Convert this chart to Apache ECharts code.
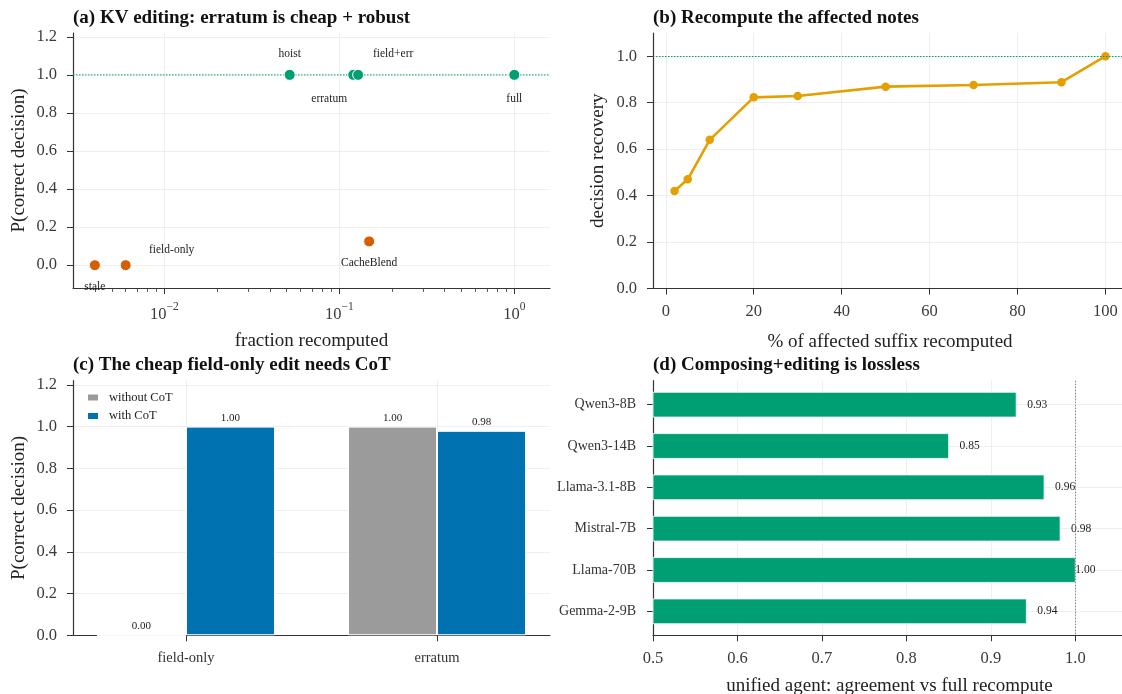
<!DOCTYPE html>
<html><head><meta charset="utf-8">
<script src="https://cdn.jsdelivr.net/npm/echarts@6/dist/echarts.min.js"></script>
<style>html,body{margin:0;padding:0;background:#fff}#c{width:1122px;height:694px}</style>
</head><body><div id="c"></div>
<script>
// ---------------- data ----------------
// (a) KV editing
const kvMethods  = ['stale', 'field-only', 'hoist', 'erratum', 'field+err', 'full', 'CacheBlend'];
const kvFraction = [0.004, 0.006, 0.052, 0.12, 0.128, 1.0, 0.148];
const kvCorrect  = [0.0, 0.0, 1.0, 1.0, 1.0, 1.0, 0.125];
const kvMajorExponents = [-2, -1, 0];
const probTicks = [0, 0.2, 0.4, 0.6, 0.8, 1.0, 1.2];
const perfectScore = 1.0;

// (b) recompute affected notes
const suffixPct = [2, 5, 10, 20, 30, 50, 70, 90, 100];
const recovery  = [0.42, 0.47, 0.64, 0.823, 0.829, 0.869, 0.876, 0.888, 1.0];
const pctTicks = [0, 20, 40, 60, 80, 100];
const recoveryTicks = [0, 0.2, 0.4, 0.6, 0.8, 1.0];

// (c) CoT
const cotEdits   = ['field-only', 'erratum'];
const withoutCoT = [0.0, 1.0];
const withCoT    = [1.0, 0.98];

// (d) composing + editing
const models    = ['Qwen3-8B', 'Qwen3-14B', 'Llama-3.1-8B', 'Mistral-7B', 'Llama-70B', 'Gemma-2-9B'];
const agreement = [0.93, 0.85, 0.963, 0.982, 1.0, 0.942];
const agreementTicks = [0.5, 0.6, 0.7, 0.8, 0.9, 1.0];

// ---------------- style ----------------
const FONT = '"Liberation Serif", "Times New Roman", serif';
const GREEN = '#009E73', ORANGE = '#D55E00', GOLD = '#E69F00', BLUE = '#0072B2', GRAY = '#9b9b9b';
const AXIS_COLOR = '#333', GRID_COLOR = '#ebebeb', TICK_TEXT = '#3a3a3a';
const TICK_FS = 16.5;
const labelOffsets = {
  'stale': [0, 22], 'field-only': [46, -15], 'hoist': [0, -21], 'erratum': [-24, 24],
  'field+err': [35, -21], 'full': [0, 24], 'CacheBlend': [0, 22]
};

function axisCommon(o) {
  return Object.assign({
    type: 'value',
    axisLine: { show: true, onZero: false, lineStyle: { color: AXIS_COLOR, width: 1.2 } },
    splitLine: { show: true, lineStyle: { color: GRID_COLOR, width: 0.8 } },
    nameLocation: 'middle',
    nameTextStyle: { fontSize: 19, color: '#222', fontFamily: FONT }
  }, o);
}
function ticks(values, extra) {
  return {
    axisLabel: Object.assign({ customValues: values, color: TICK_TEXT, fontSize: TICK_FS, fontFamily: FONT, margin: 15 }, extra || {}),
    axisTick: { show: true, customValues: values, length: 6, lineStyle: { color: AXIS_COLOR, width: 1 } }
  };
}

// minor log ticks for panel (a)
const kvMin = Math.log10(0.003), kvMax = Math.log10(1.6);
const minorTicks = [];
for (let e = -3; e <= 0; e++) {
  for (let k = 2; k <= 9; k++) {
    const v = Math.log10(k * Math.pow(10, e));
    if (v > kvMin && v < kvMax) minorTicks.push(v);
  }
}

const xAxes = [
  // 0: panel a major
  axisCommon(Object.assign({
    gridIndex: 0, position: 'bottom', min: kvMin, max: kvMax,
    name: 'fraction recomputed', nameGap: 44
  }, ticks(kvMajorExponents, {
    margin: 13,
    formatter: v => '{b|10}{s|' + (v < 0 ? '\u2212' + (-v) : v) + '}',
    rich: {
      b: { fontSize: TICK_FS, fontFamily: FONT, color: TICK_TEXT, lineHeight: 22, verticalAlign: 'bottom' },
      s: { fontSize: 11.5, fontFamily: FONT, color: TICK_TEXT, lineHeight: 12, verticalAlign: 'top' }
    }
  }))),
  // 1: panel a minor ticks
  {
    type: 'value', gridIndex: 0, position: 'bottom', min: kvMin, max: kvMax,
    axisLine: { show: false, onZero: false }, axisLabel: { show: false }, splitLine: { show: false },
    axisTick: { show: true, customValues: minorTicks, length: 4, lineStyle: { color: AXIS_COLOR, width: 0.8 } }
  },
  // 2: panel b
  axisCommon(Object.assign({
    gridIndex: 1, min: -2.9, max: 104.9,
    name: '% of affected suffix recomputed', nameGap: 44
  }, ticks(pctTicks))),
  // 3: panel c
  axisCommon(Object.assign({
    gridIndex: 2, min: -0.45, max: 1.45
  }, ticks([0, 1], { formatter: v => cotEdits[Math.round(v)], fontSize: 14.5, color: '#333' }))),
  // 4: panel d
  axisCommon(Object.assign({
    gridIndex: 3, min: 0.5, max: 1.06,
    name: 'unified agent: agreement vs full recompute', nameGap: 41
  }, ticks(agreementTicks, { formatter: v => v.toFixed(1) })))
];

const yAxes = [
  axisCommon(Object.assign({
    gridIndex: 0, min: -0.12, max: 1.22, name: 'P(correct decision)', nameGap: 44
  }, ticks(probTicks, { formatter: v => v.toFixed(1), margin: 16 }))),
  axisCommon(Object.assign({
    gridIndex: 1, min: 0, max: 1.1, name: 'decision recovery', nameGap: 45
  }, ticks(recoveryTicks, { formatter: v => v.toFixed(1), margin: 16 }))),
  axisCommon(Object.assign({
    gridIndex: 2, min: 0, max: 1.22, name: 'P(correct decision)', nameGap: 44
  }, ticks(probTicks, { formatter: v => v.toFixed(1), margin: 16 }))),
  axisCommon(Object.assign({
    gridIndex: 3, min: -0.58, max: 5.58, inverse: true
  }, ticks(models.map((_, i) => i), { formatter: v => models[Math.round(v)], fontSize: 14, color: '#333', margin: 17 })))
];

const kvData = kvMethods.map((m, i) => ({
  name: m,
  value: [Math.log10(kvFraction[i]), kvCorrect[i]],
  itemStyle: { color: kvCorrect[i] >= 0.5 ? GREEN : ORANGE },
  label: { offset: labelOffsets[m] }
}));

const titleStyle = { fontSize: 19, fontWeight: 'bold', color: '#111', fontFamily: FONT };
const dottedGreen = { color: GREEN, type: [1.5, 1.5], width: 1, opacity: 1 };

const option = {
  backgroundColor: '#fff',
  animation: false,
  textStyle: { fontFamily: FONT },
  title: [
    { text: '(a) KV editing: erratum is cheap + robust', left: 73, top: 9, textStyle: titleStyle, padding: 0 },
    { text: '(b) Recompute the affected notes', left: 653, top: 9, textStyle: titleStyle, padding: 0 },
    { text: '(c) The cheap field-only edit needs CoT', left: 73, top: 356, textStyle: titleStyle, padding: 0 },
    { text: '(d) Composing+editing is lossless', left: 653, top: 356, textStyle: titleStyle, padding: 0 }
  ],
  legend: {
    data: ['without CoT', 'with CoT'], orient: 'vertical', left: 86, top: 391, padding: 0,
    itemWidth: 12, itemHeight: 8, itemGap: 5.5, icon: 'rect',
    textStyle: { fontSize: 12.5, color: '#222', fontFamily: FONT, padding: [0, 0, 0, 5] }
  },
  grid: [
    { left: 73, top: 33, width: 477, height: 255, outerBoundsMode: 'none', containLabel: false },
    { left: 653, top: 33, width: 474, height: 255.5, outerBoundsMode: 'none', containLabel: false },
    { left: 73, top: 380.7, width: 477, height: 254.6, outerBoundsMode: 'none', containLabel: false },
    { left: 653, top: 380.7, width: 473, height: 254.6, outerBoundsMode: 'none', containLabel: false }
  ],
  xAxis: xAxes,
  yAxis: yAxes,
  series: [
    {
      // reference line P = 1 across panel (a)
      type: 'line', xAxisIndex: 0, yAxisIndex: 0, silent: true,
      data: [[kvMin, perfectScore], [kvMax, perfectScore]],
      showSymbol: false, symbol: 'none', color: GREEN,
      lineStyle: dottedGreen, z: 1
    },
    {
      type: 'scatter', xAxisIndex: 0, yAxisIndex: 0, data: kvData,
      symbolSize: 11, itemStyle: { borderColor: '#fff', borderWidth: 1, opacity: 1 },
      label: { show: true, position: 'inside', formatter: p => p.name, fontSize: 11.5, color: '#222', fontFamily: FONT },
      z: 5
    },
    {
      type: 'line', xAxisIndex: 2, yAxisIndex: 1,
      data: suffixPct.map((x, i) => [x, recovery[i]]),
      color: GOLD, lineStyle: { width: 2.6, color: GOLD }, symbol: 'circle', symbolSize: 8.5,
      itemStyle: { color: GOLD },
      markLine: {
        silent: true, symbol: 'none', label: { show: false },
        lineStyle: dottedGreen,
        data: [{ yAxis: perfectScore, lineStyle: dottedGreen }]
      }
    },
    {
      name: 'without CoT', type: 'bar', xAxisIndex: 3, yAxisIndex: 2,
      data: cotEdits.map((_, i) => [i, withoutCoT[i]]),
      barWidth: 89, barGap: '0%', color: GRAY,
      itemStyle: { color: GRAY, borderColor: '#fff', borderWidth: 1 },
      label: { show: true, position: 'top', distance: 3, formatter: p => p.value[1].toFixed(2), fontSize: 11, color: '#222', fontFamily: FONT }
    },
    {
      name: 'with CoT', type: 'bar', xAxisIndex: 3, yAxisIndex: 2,
      data: cotEdits.map((_, i) => [i, withCoT[i]]),
      barWidth: 89, barGap: '0%', color: BLUE,
      itemStyle: { color: BLUE, borderColor: '#fff', borderWidth: 1 },
      label: { show: true, position: 'top', distance: 3, formatter: p => p.value[1].toFixed(2), fontSize: 11, color: '#222', fontFamily: FONT }
    },
    {
      type: 'custom', xAxisIndex: 4, yAxisIndex: 3,
      data: agreement.map((v, i) => [v, i]),
      encode: { x: 0, y: 1 },
      renderItem: function (params, api) {
        const v = api.value(0), idx = api.value(1);
        const start = api.coord([0.5, idx]);
        const end = api.coord([v, idx]);
        const h = Math.abs(api.size([0, 0.6])[1]);
        const tx = api.coord([Math.min(v + 0.013, 1.0), idx])[0];
        return {
          type: 'group',
          children: [
            { type: 'rect', shape: { x: start[0], y: end[1] - h / 2, width: end[0] - start[0], height: h },
              style: { fill: GREEN, stroke: '#fff', lineWidth: 0.8 } },
            { type: 'text', x: tx, y: end[1],
              style: { text: v.toFixed(2), fill: '#222', font: '11.5px ' + FONT, align: 'left', verticalAlign: 'middle' } }
          ]
        };
      },
      markLine: {
        silent: true, symbol: 'none', label: { show: false },
        lineStyle: { color: '#888', type: [1.5, 1.5], width: 1 },
        data: [{ xAxis: perfectScore, lineStyle: { color: '#888', type: [1.5, 1.5], width: 1 } }]
      }
    }
  ]
};

const chart = echarts.init(document.getElementById('c'), null, { renderer: 'canvas', width: 1122, height: 694 });
chart.setOption(option);
</script>
</body></html>
